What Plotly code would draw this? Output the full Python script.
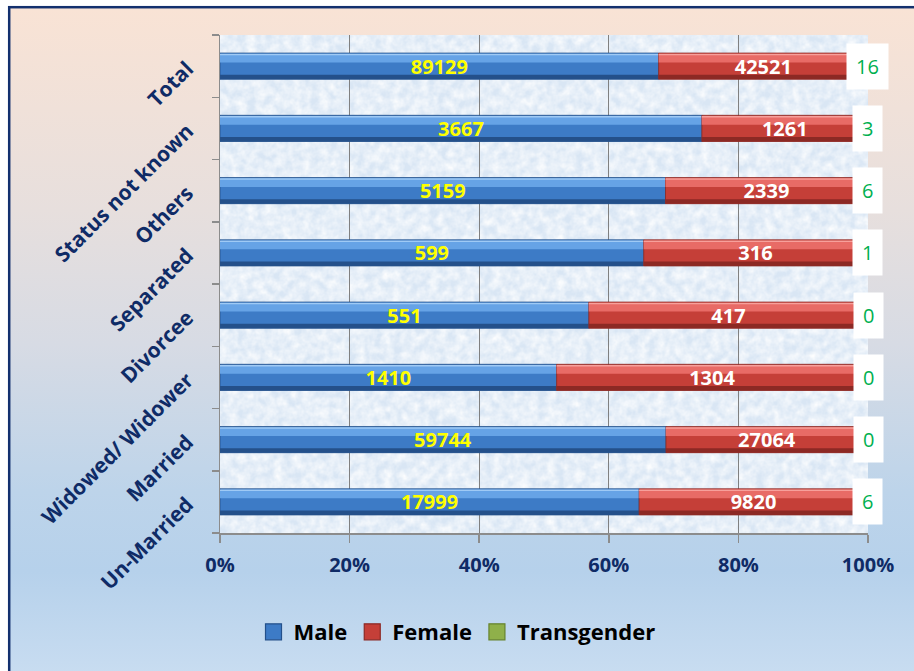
import base64
import plotly.graph_objects as go

# ---------------- data ----------------
categories = ["Un-Married", "Married", "Widowed/ Widower", "Divorcee",
              "Separated", "Others", "Status not known", "Total"]
male = [17999, 59744, 1410, 551, 599, 5159, 3667, 89129]
female = [9820, 27064, 1304, 417, 316, 2339, 1261, 42521]
transgender = [6, 0, 0, 0, 1, 6, 3, 16]
series_names = ["Male", "Female", "Transgender"]
x_tick_values = [0, 20, 40, 60, 80, 100]
x_tick_labels = ["0%", "20%", "40%", "60%", "80%", "100%"]

# ---------------- derived (100% stacked) ----------------
totals = [m + f + t for m, f, t in zip(male, female, transgender)]
male_pct = [100 * m / s for m, s in zip(male, totals)]
female_pct = [100 * f / s for f, s in zip(female, totals)]
trans_pct = [100 * t / s for t, s in zip(transgender, totals)]
male_base = [0 for _ in totals]
female_base = male_pct
trans_base = [a + b for a, b in zip(male_pct, female_pct)]

FONT = "Open Sans"
NAVY = "#0f2b66"
W, H = 914, 671
ML, MR, MT, MB = 220, 46, 35, 138
PW, PH = W - ML - MR, H - MT - MB
OFF = 8  # white frame outside the chart border

# ---------------- background images ----------------
paper_svg = f"""<svg xmlns='http://www.w3.org/2000/svg' width='{W}' height='{H}'>
<defs><linearGradient id='g' x1='0' y1='0' x2='0' y2='1'>
<stop offset='0' stop-color='#f9e3d5'/>
<stop offset='0.30' stop-color='#e7dfdd'/>
<stop offset='0.50' stop-color='#d7dbe4'/>
<stop offset='0.72' stop-color='#bdd4ea'/>
<stop offset='0.84' stop-color='#b6d1eb'/>
<stop offset='1' stop-color='#c9ddf1'/>
</linearGradient></defs>
<rect x='0' y='0' width='{W}' height='{H}' fill='#ffffff'/>
<rect x='{OFF}' y='{OFF}' width='{W}' height='{H}' fill='url(#g)'/>
<rect x='{OFF + 1.2}' y='{OFF - 0.8}' width='{W + 20}' height='{H + 20}' fill='none' stroke='#13306e' stroke-width='2.5'/>
</svg>"""

plot_svg = f"""<svg xmlns='http://www.w3.org/2000/svg' width='{PW}' height='{PH}'>
<defs><filter id='f' x='0' y='0' width='100%' height='100%'>
<feTurbulence type='fractalNoise' baseFrequency='0.11' numOctaves='3' seed='4'/>
<feColorMatrix type='matrix' values='0 0 0 0 1  0 0 0 0 1  0 0 0 0 1  1.4 0 0 0 -0.35'/>
</filter></defs>
<rect width='{PW}' height='{PH}' fill='#d9e6f4'/>
<rect width='{PW}' height='{PH}' filter='url(#f)'/>
</svg>"""


def uri(svg):
    return "data:image/svg+xml;base64," + base64.b64encode(svg.encode()).decode()


fig = go.Figure()

BW = 0.42
series = [
    (series_names[0], male_pct, male_base, "#3d7bc6", "#66a3e6", "#9fcaf5", "#24508a"),
    (series_names[1], female_pct, female_base, "#c53f38", "#e86b66", "#f7a09b", "#8c2924"),
    (series_names[2], trans_pct, trans_base, "#8fb04a", "#b3d06b", "#d4ea9a", "#66832c"),
]

for name, pct, base, c_main, c_light, c_edge, c_dark in series:
    fig.add_trace(go.Bar(
        y=categories, x=pct, base=base, orientation="h", name=name, showlegend=False,
        width=BW, offset=-BW / 2, marker=dict(color=c_main, line=dict(width=0.8, color=c_dark)),
        hoverinfo="skip"))
    fig.add_trace(go.Bar(
        y=categories, x=pct, base=base, orientation="h", showlegend=False,
        width=0.13, offset=BW / 2 - 0.15, marker=dict(color=c_light, line=dict(width=0)),
        hoverinfo="skip"))
    fig.add_trace(go.Bar(
        y=categories, x=pct, base=base, orientation="h", showlegend=False,
        width=0.025, offset=BW / 2 - 0.035, marker=dict(color=c_edge, line=dict(width=0)),
        hoverinfo="skip"))
    fig.add_trace(go.Bar(
        y=categories, x=pct, base=base, orientation="h", showlegend=False,
        width=0.07, offset=-BW / 2, marker=dict(color=c_dark, line=dict(width=0)),
        hoverinfo="skip"))

# value labels (transparent carrier bars)
for vals, pct, base, col in [(male, male_pct, male_base, "#ffff00"),
                             (female, female_pct, female_base, "#ffffff")]:
    fig.add_trace(go.Bar(
        y=categories, x=pct, base=base, orientation="h", showlegend=False,
        width=BW, offset=-BW / 2, marker=dict(color="rgba(0,0,0,0)", line=dict(width=0)),
        text=[str(v) for v in vals], textposition="inside", insidetextanchor="middle",
        textangle=0, constraintext="none", cliponaxis=False,
        textfont=dict(family=FONT, size=20, color=col, weight="bold"),
        hoverinfo="skip"))

# legend entries (larger square swatches)
for name, _, _, c_main, _, _, c_dark in series:
    fig.add_trace(go.Scatter(
        x=[None], y=[None], mode="markers", name=name,
        marker=dict(symbol="square", size=16, color=c_main, line=dict(width=1.2, color=c_dark)),
        hoverinfo="skip"))

# transgender labels in white boxes
for cat, t, p, b in zip(categories, transgender, trans_pct, trans_base):
    fig.add_annotation(x=b + p / 2, y=cat, xref="x", yref="y", text=str(t),
                       showarrow=False, bgcolor="#ffffff", borderpad=9,
                       font=dict(family=FONT, size=20, color="#00b050"))

fig.update_layout(
    width=W, height=H,
    margin=dict(l=ML, r=MR, t=MT, b=MB, autoexpand=False),
    barmode="overlay",
    paper_bgcolor="#ffffff",
    plot_bgcolor="rgba(0,0,0,0)",
    font=dict(family=FONT, color=NAVY),
    showlegend=True,
    legend=dict(orientation="h", x=(457 - ML) / PW, xanchor="center",
                y=(H - MB - 632) / PH, yanchor="middle",
                font=dict(family=FONT, size=22, color="#000000", weight="bold"),
                bgcolor="rgba(0,0,0,0)", itemwidth=30, tracegroupgap=0,
                itemsizing="trace"),
    images=[
        dict(source=uri(paper_svg), xref="paper", yref="paper",
             x=-ML / PW, y=1 + MT / PH, sizex=W / PW, sizey=H / PH,
             xanchor="left", yanchor="top", sizing="stretch", layer="below"),
        dict(source=uri(plot_svg), xref="paper", yref="paper",
             x=0, y=1, sizex=1, sizey=1,
             xanchor="left", yanchor="top", sizing="stretch", layer="below"),
    ],
    xaxis=dict(range=[0, 100], tickvals=x_tick_values, ticktext=x_tick_labels,
               showgrid=True, gridcolor="#808080", gridwidth=1.2,
               showline=True, linecolor="#8c8c8c", linewidth=1.5,
               ticks="outside", ticklen=8, tickcolor="#8c8c8c", tickwidth=1.5,
               zeroline=False, ticklabelstandoff=5,
               tickfont=dict(family=FONT, size=20, color=NAVY, weight="bold")),
    yaxis=dict(type="category", categoryorder="array", categoryarray=categories,
               range=[-0.5, len(categories) - 0.5],
               tickson="boundaries", ticks="outside", ticklen=7,
               tickcolor="#8c8c8c", tickwidth=1.5,
               showline=True, linecolor="#8c8c8c", linewidth=1.5,
               showgrid=False, zeroline=False, tickangle=-45,
               ticklabelstandoff=27,
               tickfont=dict(family=FONT, size=21, color=NAVY, weight="bold")),
)

fig.write_html(
    "out.html",
    config={"displayModeBar": False, "staticPlot": True},
    post_script="document.body.style.margin='0';document.body.style.overflow='hidden';",
)
